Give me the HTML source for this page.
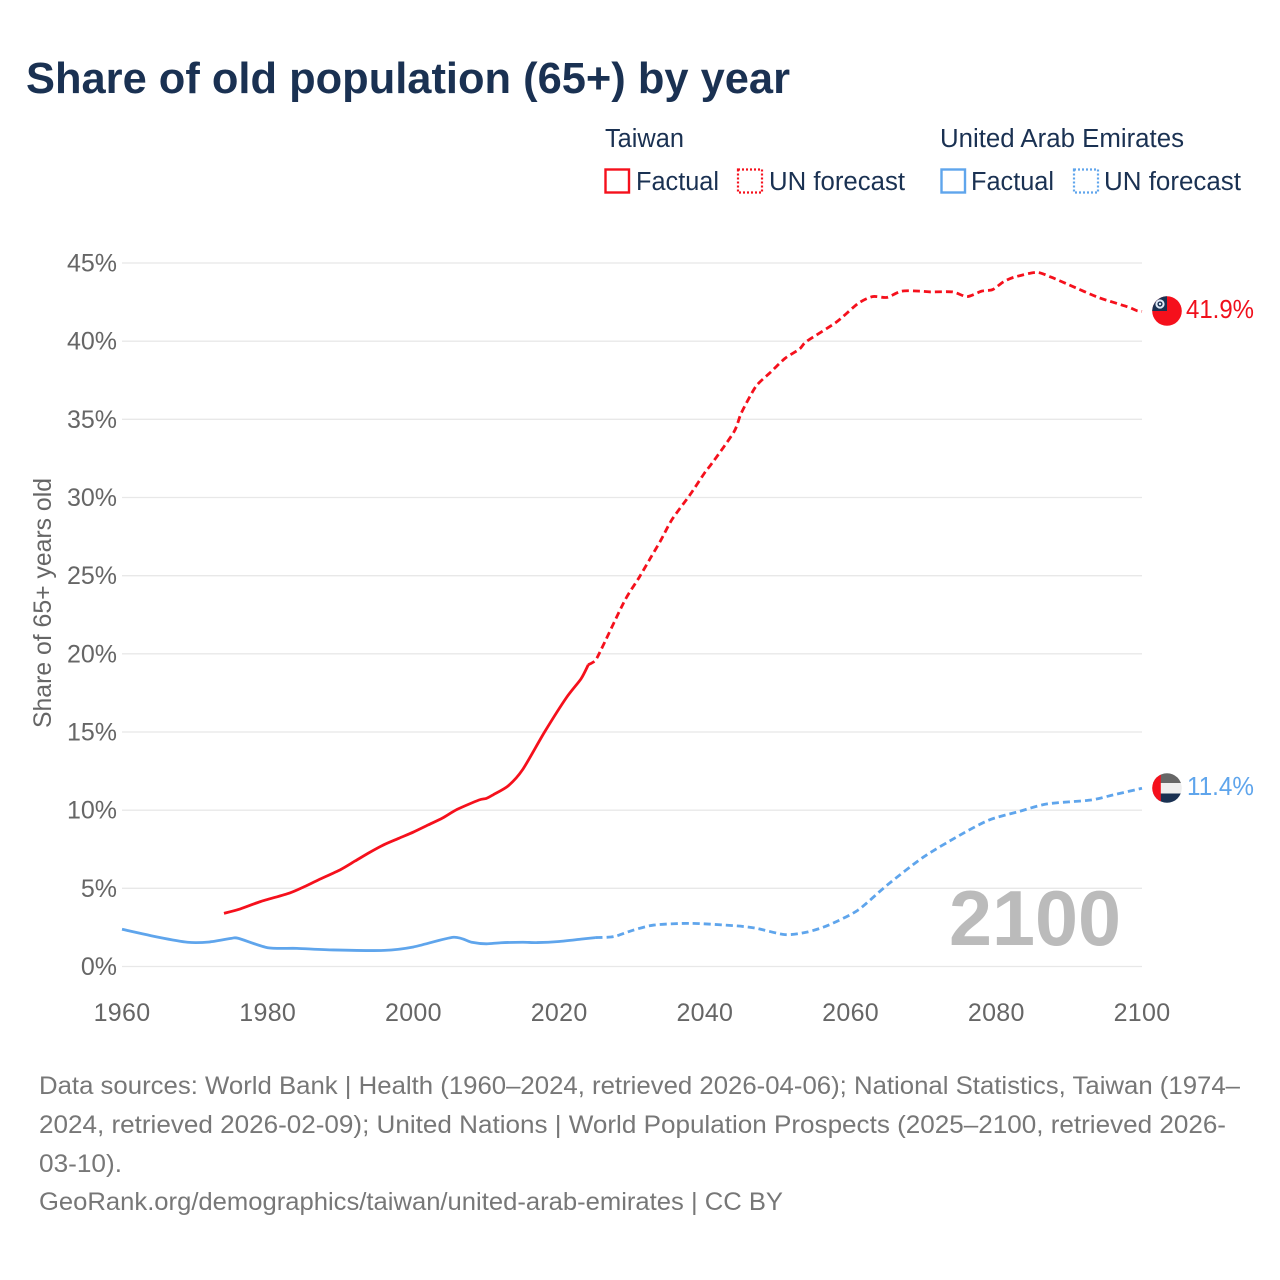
<!DOCTYPE html>
<html lang="en">
<head>
<meta charset="utf-8">
<title>Share of old population (65+) by year</title>
<style>
html,body{margin:0;padding:0;background:#fff;}
svg{display:block;font-family:"Liberation Sans",sans-serif;}
</style>
</head>
<body>
<svg id="chart" width="1280" height="1280" viewBox="0 0 1280 1280" xmlns="http://www.w3.org/2000/svg">
  <defs>
    <clipPath id="clip-tw"><circle cx="1167" cy="311" r="14.8"/></clipPath>
    <clipPath id="clip-ae"><circle cx="1167" cy="788" r="14.8"/></clipPath>
  </defs>
  <rect width="1280" height="1280" fill="#fff"/>
  <text x="26" y="93" font-size="44" font-weight="700" fill="#1a3152" textLength="764" lengthAdjust="spacingAndGlyphs">Share of old population (65+) by year</text>

  <g font-size="25.5" fill="#1a3152">
    <text x="605" y="147" textLength="79" lengthAdjust="spacingAndGlyphs">Taiwan</text>
    <rect x="605.5" y="169.5" width="23.5" height="23" fill="none" stroke="#f5101c" stroke-width="2.4"/>
    <text x="636" y="190" textLength="83" lengthAdjust="spacingAndGlyphs">Factual</text>
    <rect x="738" y="169.5" width="24" height="23" fill="none" stroke="#f5101c" stroke-width="2.2" stroke-dasharray="2 2"/>
    <text x="769" y="190" textLength="136" lengthAdjust="spacingAndGlyphs">UN forecast</text>
    <text x="940" y="147" textLength="244" lengthAdjust="spacingAndGlyphs">United Arab Emirates</text>
    <rect x="941.5" y="169.5" width="23.5" height="23" fill="none" stroke="#5fa5ec" stroke-width="2.4"/>
    <text x="971" y="190" textLength="83" lengthAdjust="spacingAndGlyphs">Factual</text>
    <rect x="1074" y="169.5" width="24" height="23" fill="none" stroke="#5fa5ec" stroke-width="2.2" stroke-dasharray="2 2"/>
    <text x="1104" y="190" textLength="137" lengthAdjust="spacingAndGlyphs">UN forecast</text>
  </g>

  <g id="grid"></g>
  <g id="yticks" font-size="25" fill="#666" text-anchor="end"></g>
  <g id="xticks" font-size="25" fill="#666" text-anchor="middle"></g>
  <text transform="translate(51,603) rotate(-90)" font-size="25" fill="#666" text-anchor="middle" textLength="250" lengthAdjust="spacingAndGlyphs">Share of 65+ years old</text>

  <text id="year-watermark" x="1121" y="945" font-size="78" font-weight="700" fill="#bbbbbb" text-anchor="end" textLength="172" lengthAdjust="spacingAndGlyphs">2100</text>

  <g id="series"></g>

  <g clip-path="url(#clip-tw)">
    <rect x="1150" y="294" width="34" height="34" fill="#f5101c"/>
    <rect x="1150" y="294" width="17" height="17" fill="#1a3152"/>
    <circle cx="1160" cy="304" r="3.6" fill="none" stroke="#dfe8f5" stroke-width="2"/>
    <circle cx="1160" cy="304" r="1.2" fill="#dfe8f5"/>
  </g>
  <g clip-path="url(#clip-ae)">
    <rect x="1150" y="771" width="34" height="12" fill="#666666"/>
    <rect x="1150" y="783" width="34" height="10.5" fill="#eeeeee"/>
    <rect x="1150" y="793.5" width="34" height="12" fill="#1a3152"/>
    <rect x="1150" y="771" width="10.8" height="34" fill="#f5101c"/>
  </g>
  <text id="label-tw" x="1186" y="318" font-size="25.5" fill="#f0101c" textLength="68" lengthAdjust="spacingAndGlyphs">41.9%</text>
  <text id="label-ae" x="1187" y="795" font-size="25.5" fill="#5fa5ec" textLength="67" lengthAdjust="spacingAndGlyphs">11.4%</text>

  <g font-size="25" fill="#777">
    <text x="39" y="1094" textLength="1201" lengthAdjust="spacingAndGlyphs">Data sources: World Bank | Health (1960–2024, retrieved 2026-04-06); National Statistics, Taiwan (1974–</text>
    <text x="39" y="1133" textLength="1187" lengthAdjust="spacingAndGlyphs">2024, retrieved 2026-02-09); United Nations | World Population Prospects (2025–2100, retrieved 2026-</text>
    <text x="39" y="1172" textLength="83" lengthAdjust="spacingAndGlyphs">03-10).</text>
    <text x="39" y="1210" textLength="744" lengthAdjust="spacingAndGlyphs">GeoRank.org/demographics/taiwan/united-arab-emirates | CC BY</text>
  </g>
</svg>
<script>
const yTickValues = [0, 5, 10, 15, 20, 25, 30, 35, 40, 45];
const xTickValues = [1960, 1980, 2000, 2020, 2040, 2060, 2080, 2100];

const taiwanFactualYears = [1974, 1976, 1979, 1983, 1985, 1987, 1990, 1992, 1994, 1996, 1998, 2000, 2002, 2004, 2006, 2009, 2010, 2011, 2013, 2015, 2018, 2021, 2023, 2024];
const taiwanFactualValues = [3.4, 3.65, 4.15, 4.7, 5.1, 5.55, 6.2, 6.75, 7.3, 7.8, 8.2, 8.6, 9.05, 9.5, 10.05, 10.65, 10.75, 11.0, 11.55, 12.6, 15.0, 17.2, 18.4, 19.3];
const taiwanForecastYears = [2024, 2025, 2026, 2029, 2031, 2032.5, 2034, 2035.5, 2038, 2040, 2041, 2044, 2045, 2047, 2049, 2051, 2053, 2054, 2058, 2061, 2063, 2065, 2067, 2069.5, 2071, 2074, 2076, 2078, 2079.5, 2081, 2082.5, 2085.5, 2087.5, 2090, 2094, 2098, 2099.3, 2100];
const taiwanForecastValues = [19.3, 19.6, 20.5, 23.4, 24.9, 26.1, 27.3, 28.6, 30.2, 31.6, 32.2, 34.2, 35.4, 37.1, 38.0, 38.9, 39.5, 40.0, 41.2, 42.4, 42.85, 42.8, 43.2, 43.2, 43.15, 43.15, 42.85, 43.2, 43.3, 43.8, 44.1, 44.4, 44.1, 43.6, 42.8, 42.2, 41.95, 41.9];

const uaeFactualYears = [1960, 1965, 1969, 1972, 1975, 1976, 1980, 1984, 1989, 1996, 2000, 2005.5, 2008, 2010, 2012, 2015, 2017, 2020, 2023, 2025];
const uaeFactualValues = [2.38, 1.87, 1.55, 1.57, 1.8, 1.8, 1.2, 1.16, 1.06, 1.03, 1.25, 1.87, 1.55, 1.45, 1.52, 1.55, 1.53, 1.6, 1.75, 1.85];
const uaeForecastYears = [2025, 2027.5, 2030, 2033, 2038, 2044, 2047, 2051, 2054, 2057, 2061, 2065, 2070, 2075, 2079, 2083, 2087, 2093, 2096, 2100];
const uaeForecastValues = [1.85, 1.91, 2.3, 2.65, 2.76, 2.61, 2.45, 2.04, 2.2, 2.65, 3.6, 5.2, 7.0, 8.4, 9.37, 9.9, 10.4, 10.65, 10.97, 11.4];

const NS = 'http://www.w3.org/2000/svg';
function xScale(year) { return 122 + (year - 1960) * (1020 / 140); }
function yScale(value) { return 966.5 - value * (703.5 / 45); }

const gridGroup = document.getElementById('grid');
const yTickGroup = document.getElementById('yticks');
const xTickGroup = document.getElementById('xticks');
const seriesGroup = document.getElementById('series');

yTickValues.forEach(function (v) {
  const line = document.createElementNS(NS, 'line');
  
  
  line.setAttribute('x1', 122);
  line.setAttribute('x2', 1142);
  line.setAttribute('y1', yScale(v));
  line.setAttribute('y2', yScale(v));
  line.setAttribute('stroke', '#e8e8e8');
  line.setAttribute('stroke-width', '1.3');
  gridGroup.appendChild(line);

  const label = document.createElementNS(NS, 'text');
  
  
  label.setAttribute('x', 117);
  label.setAttribute('y', yScale(v) + 8.5);
  label.textContent = v + '%';
  yTickGroup.appendChild(label);
});

xTickValues.forEach(function (y) {
  const label = document.createElementNS(NS, 'text');
  
  
  label.setAttribute('x', xScale(y));
  label.setAttribute('y', 1021);
  label.setAttribute('letter-spacing', '0.3');
  label.textContent = y;
  xTickGroup.appendChild(label);
});

function buildSmoothPath(years, values) {
  const pts = years.map(function (y, i) { return [xScale(y), yScale(values[i])]; });
  let d = 'M' + pts[0][0].toFixed(2) + ' ' + pts[0][1].toFixed(2);
  for (let i = 0; i < pts.length - 1; i++) {
    const p0 = pts[Math.max(i - 1, 0)];
    const p1 = pts[i];
    const p2 = pts[i + 1];
    const p3 = pts[Math.min(i + 2, pts.length - 1)];
    const c1x = p1[0] + (p2[0] - p0[0]) / 8;
    const c1y = p1[1] + (p2[1] - p0[1]) / 8;
    const c2x = p2[0] - (p3[0] - p1[0]) / 8;
    const c2y = p2[1] - (p3[1] - p1[1]) / 8;
    d += 'C' + c1x.toFixed(2) + ' ' + c1y.toFixed(2) + ' ' + c2x.toFixed(2) + ' ' + c2y.toFixed(2) + ' ' + p2[0].toFixed(2) + ' ' + p2[1].toFixed(2);
  }
  return d;
}

function drawSeries(name, years, values, color, dash) {
  const line = document.createElementNS(NS, 'path');
  
  
  line.setAttribute('d', buildSmoothPath(years, values));
  line.setAttribute('fill', 'none');
  line.setAttribute('stroke', color);
  line.setAttribute('stroke-width', '2.8');
  line.setAttribute('stroke-linejoin', 'round');
  if (dash) line.setAttribute('stroke-dasharray', dash);
  seriesGroup.appendChild(line);
}

drawSeries('uae-factual-line', uaeFactualYears, uaeFactualValues, '#5fa5ec', null);
drawSeries('uae-forecast-line', uaeForecastYears, uaeForecastValues, '#5fa5ec', '7 4');
drawSeries('taiwan-factual-line', taiwanFactualYears, taiwanFactualValues, '#f5101c', null);
drawSeries('taiwan-forecast-line', taiwanForecastYears, taiwanForecastValues, '#f5101c', '7 4');
</script>
</body>
</html>
